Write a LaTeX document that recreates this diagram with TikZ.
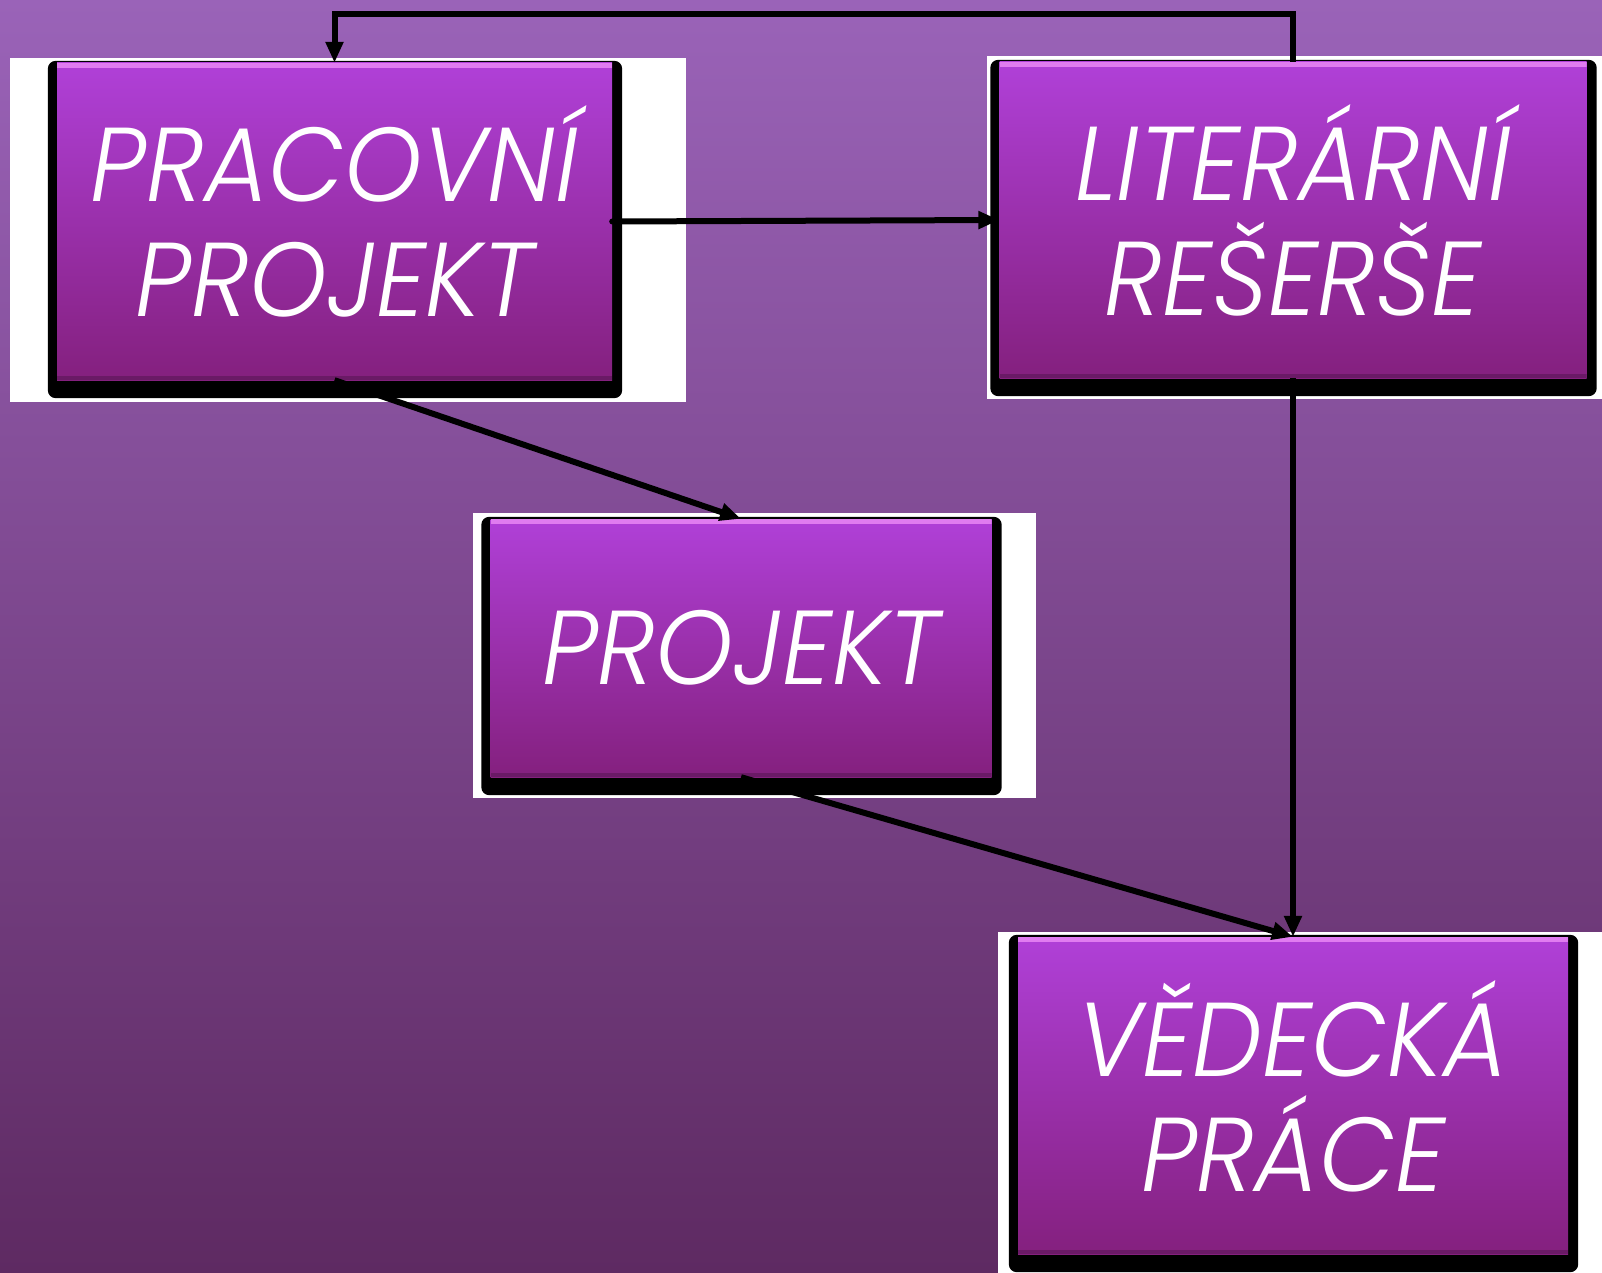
\documentclass[tikz,border=0pt]{standalone}
\usepackage{fontspec}
\newfontfamily\boxfont{Poppins Light Italic}[FakeStretch=0.94]
\usepackage{tikz}
\usetikzlibrary{arrows.meta,positioning,backgrounds,calc}
\definecolor{bgtop}{HTML}{9A63B8}
\definecolor{bgbot}{HTML}{5E2A62}
\definecolor{boxtop}{HTML}{B040D8}
\definecolor{boxbot}{HTML}{84207E}
\definecolor{boxhi}{HTML}{E07CF0}
\definecolor{boxlo}{HTML}{6A1A66}
\newcommand\lowstrut{\rule[-20pt]{0pt}{0pt}}
\tikzset{>={Triangle[length=21pt,width=17pt]}}
\tikzset{
  stage/.style={rectangle,top color=boxtop,bottom color=boxbot,text=white,align=center,
    font=\boxfont\fontsize{105}{115}\selectfont,inner sep=0pt,
    path picture={\fill[boxhi] (path picture bounding box.north west) rectangle ([yshift=-5pt]path picture bounding box.north east);
      \fill[boxlo] (path picture bounding box.south west) rectangle ([yshift=4pt]path picture bounding box.south east);}},
  link/.style={->,line width=6pt,black},
}

\begin{document}
\begin{tikzpicture}[x=1pt,y=-1pt]
    \useasboundingbox (0,0) rectangle (1602,1273);
    \node[stage,minimum width=555pt,minimum height=317pt] (prac) at (334.5,221.5) {PRACOVNÍ\\PROJEKT\lowstrut};
    \node[stage,minimum width=587pt,minimum height=316pt] (lit) at (1293,220) {LITERÁRNÍ\\REŠERŠE\lowstrut};
    \node[stage,minimum width=501pt,minimum height=258pt] (proj) at (741,648) {PROJEKT};
    \node[stage,minimum width=550pt,minimum height=317pt] (ved) at (1293,1095.5) {VĚDECKÁ\\PRÁCE\lowstrut};
    \begin{scope}[on background layer]
      \shade[top color=bgtop,bottom color=bgbot] (0,0) rectangle (1602,1273);
      \fill[white] (10,58) rectangle (686,402);
      \fill[white] (987,56) rectangle (1602,399);
      \fill[white] (473,513) rectangle (1036,798);
      \fill[white] (998,932) rectangle (1602,1273);
      \foreach \n in {prac,lit,proj,ved}
        \fill[black,rounded corners=8pt] ([shift={(-9,-2)}]\n.north west) rectangle ([shift={(10,18)}]\n.south east);
    \end{scope}
    \draw[link] (lit.north) -- ++(0,-48) -| (prac.north);
    \draw[link,line cap=round] (prac.east) -- (lit.west);
    \draw[link] (prac.south) -- (proj.north);
    \draw[link] (proj.south) -- (ved.north);
    \draw[link] (lit.south) -- (ved.north);
  \end{tikzpicture}
\end{document}
